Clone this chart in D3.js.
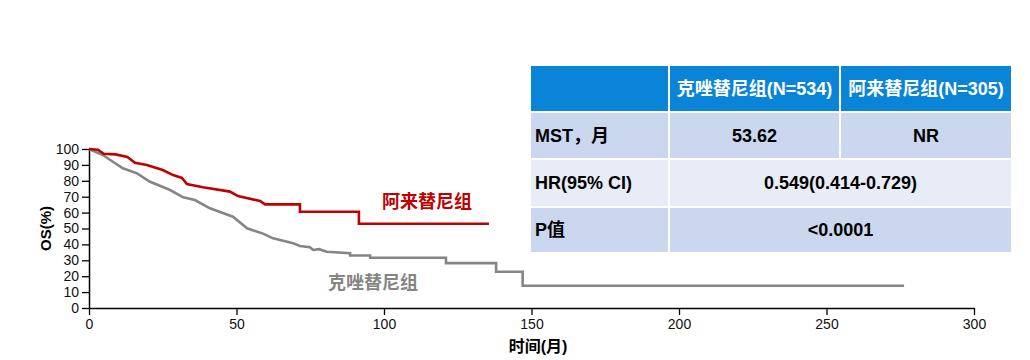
<!DOCTYPE html>
<html>
<head>
<meta charset="utf-8">
<script src="https://cdn.jsdelivr.net/npm/d3@7"></script>
<style>
  body { margin: 0; background: #fff; }
  svg text { font-family: "Liberation Sans", Arial, "Noto Sans CJK SC", sans-serif; }
</style>
</head>
<body>
<div id="chart"></div>
<script>
// --- Daten ---
// 阿来替尼组: Zeit (Monate) und OS (%)
const alecTime = [0, 3, 5, 9, 13, 15.6, 19.6, 25, 28.5, 31.5, 33.2, 38.6, 47.8, 50.5, 58, 59.7, 71.5, 71.5, 91.5, 91.5, 135.6];
const alecSurv = [100, 99.5, 97, 96.6, 95, 91.4, 90, 86.8, 83.6, 81.8, 78, 76, 73.2, 70.4, 67.3, 65.2, 65.2, 60.5, 60.5, 53, 53];

// 克唑替尼组
const crizTime = [0, 4.7, 8.1, 11.5, 16.3, 20.7, 27.5, 31.9, 35.9, 41, 48.8, 53.6, 59, 62.4, 69.2, 71.5, 74.9, 76, 78, 80.6, 88.5, 88.5, 95.3, 95.3, 121, 121, 138, 138, 147, 147, 276.3];
const crizSurv = [100, 96.2, 92, 87.9, 84.7, 79.4, 74.2, 69.6, 67.9, 62.7, 57.4, 50.1, 46.8, 43.8, 40.7, 39, 38.2, 36.5, 37, 35.4, 34.4, 33, 33, 31.6, 31.6, 28.2, 28.2, 22.8, 22.8, 14, 14];

const xTicks = [0, 50, 100, 150, 200, 250, 300];
const yTicks = [0, 10, 20, 30, 40, 50, 60, 70, 80, 90, 100];

// Tabelle
const tableHeader = ["", "克唑替尼组(N=534)", "阿来替尼组(N=305)"];
const tableRows = [
  ["MST，月", "53.62", "NR"],
  ["HR(95% CI)", "0.549(0.414-0.729)"],
  ["P值", "<0.0001"]
];

// --- Zeichenfläche ---
const width = 1030, height = 360;
const svg = d3.select("#chart").append("svg")
  .attr("width", width)
  .attr("height", height);

const x = d3.scaleLinear().domain([0, 300]).range([89, 974]);
const y = d3.scaleLinear().domain([0, 100]).range([308, 149]);

// Achsen
const xAxis = svg.append("g")
  .attr("transform", `translate(0,${y(0)})`)
  .call(d3.axisBottom(x).tickValues(xTicks).tickSize(7).tickSizeOuter(0));
const yAxis = svg.append("g")
  .attr("transform", `translate(${x(0)},0)`)
  .call(d3.axisLeft(y).tickValues(yTicks).tickSize(7).tickSizeOuter(0));

[xAxis, yAxis].forEach(g => {
  g.select(".domain").attr("stroke", "#000").attr("stroke-width", 1.5);
  g.selectAll(".tick line").attr("stroke", "#000").attr("stroke-width", 1.3);
  g.selectAll(".tick text").attr("fill", "#111").style("font-size", "14px");
});
xAxis.selectAll(".tick text").attr("dy", "0.8em");
yAxis.selectAll(".tick text").attr("x", -10);

// Achsentitel
svg.append("text")
  .attr("transform", `translate(51,${(y(0) + y(100)) / 2}) rotate(-90)`)
  .attr("text-anchor", "middle")
  .style("font-size", "15px")
  .style("font-weight", "bold")
  .text("OS(%)");

svg.append("text")
  .attr("x", 538)
  .attr("y", 352)
  .attr("text-anchor", "middle")
  .style("font-size", "16px")
  .style("font-weight", "bold")
  .text("时间(月)");

// Kurven
const line = d3.line()
  .x(d => x(d[0]))
  .y(d => y(d[1]));

svg.append("path")
  .datum(crizTime.map((t, i) => [t, crizSurv[i]]))
  .attr("fill", "none")
  .attr("stroke", "#858585")
  .attr("stroke-width", 2.6)
  .attr("d", line);

svg.append("path")
  .datum(alecTime.map((t, i) => [t, alecSurv[i]]))
  .attr("fill", "none")
  .attr("stroke", "#c00000")
  .attr("stroke-width", 2.6)
  .attr("d", line);

// Beschriftungen der Kurven
svg.append("text")
  .attr("x", 427).attr("y", 208)
  .attr("text-anchor", "middle")
  .attr("fill", "#c00000")
  .style("font-size", "18px")
  .style("font-weight", "bold")
  .text("阿来替尼组");

svg.append("text")
  .attr("x", 373).attr("y", 289)
  .attr("text-anchor", "middle")
  .attr("fill", "#858585")
  .style("font-size", "18px")
  .style("font-weight", "bold")
  .text("克唑替尼组");

// --- Tabelle ---
const colX = [530, 669, 840, 1012];
const rowY = [65, 112, 159, 207, 253];
const rowFill = ["#0a84d6", "#cbd7ee", "#e7ecf6", "#cbd7ee"];
const table = svg.append("g");

function cell(x0, x1, y0, y1, fill, label, anchor, color) {
  table.append("rect")
    .attr("x", x0).attr("y", y0)
    .attr("width", x1 - x0).attr("height", y1 - y0)
    .attr("fill", fill)
    .attr("stroke", "#fff")
    .attr("stroke-width", 2);
  if (!label) return;
  table.append("text")
    .attr("x", anchor === "start" ? x0 + 5 : (x0 + x1) / 2)
    .attr("y", (y0 + y1) / 2)
    .attr("dy", "0.36em")
    .attr("text-anchor", anchor)
    .attr("fill", color)
    .style("font-size", "18px")
    .style("font-weight", "bold")
    .text(label);
}

tableHeader.forEach((h, j) => {
  cell(colX[j], colX[j + 1], rowY[0], rowY[1], rowFill[0], h, "middle", "#fff");
});
tableRows.forEach((r, i) => {
  const y0 = rowY[i + 1], y1 = rowY[i + 2], f = rowFill[i + 1];
  cell(colX[0], colX[1], y0, y1, f, r[0], "start", "#000");
  if (r.length === 3) {
    cell(colX[1], colX[2], y0, y1, f, r[1], "middle", "#000");
    cell(colX[2], colX[3], y0, y1, f, r[2], "middle", "#000");
  } else {
    cell(colX[1], colX[3], y0, y1, f, r[1], "middle", "#000");
  }
});
</script>
</body>
</html>
